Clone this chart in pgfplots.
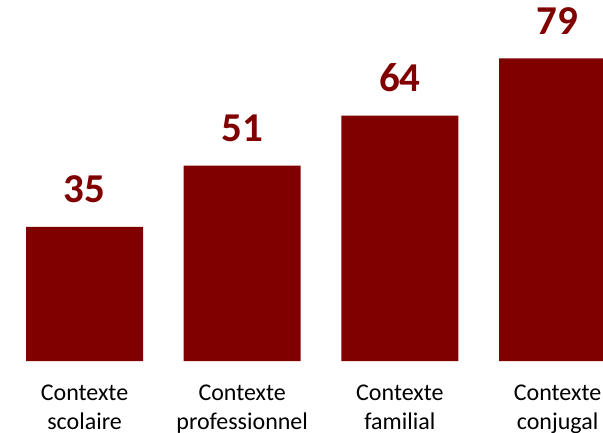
\documentclass[border=0pt]{standalone}
\usepackage{pgfplots}
\pgfplotsset{compat=1.18}
\usepackage{fontspec}
\setmainfont{Carlito}
\definecolor{barred}{RGB}{128,0,0}
\begin{document}
\begin{tikzpicture}
\useasboundingbox (0,-71pt) rectangle (603pt,361pt);
\begin{axis}[
  anchor=south west,
  at={(0,0)},
  scale only axis,
  width=603pt, height=361pt,
  xmin=-0.536, xmax=3.288,
  ymin=0, ymax=94.2,
  ybar, bar width=117pt, bar shift=0pt,
  axis line style={draw=none},
  tick style={draw=none},
  ytick=\empty,
  xtick={0,1,2,3},
  xticklabels={{Contexte\\scolaire},{Contexte\\professionnel},{Contexte\\familial},{Contexte\\conjugal}},
  xticklabel style={align=center, font=\fontsize{24}{29}\selectfont, inner sep=0pt, anchor=north, yshift=-19pt, text=black},
  /pgf/number format/assume math mode=true,
  nodes near coords,
  every node near coord/.append style={font=\fontsize{41}{44}\selectfont\bfseries, text=barred, anchor=base, inner sep=0pt, yshift=24pt},
]
\addplot[fill=barred, draw=none] coordinates {(0,35) (1,51) (2,64) (3,79)};
\end{axis}
\end{tikzpicture}
\end{document}
